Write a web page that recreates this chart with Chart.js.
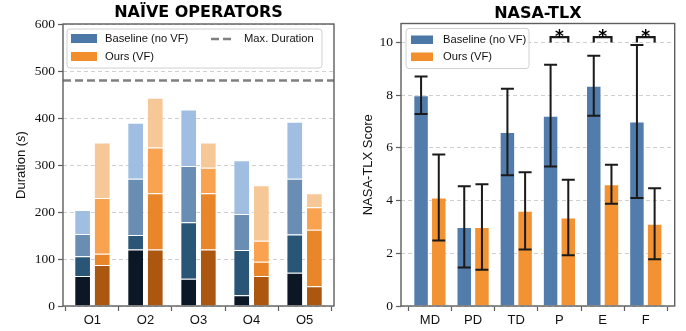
<!DOCTYPE html>
<html>
<head>
<meta charset="utf-8">
<title>Naive operators / NASA-TLX</title>
<script src="https://cdn.jsdelivr.net/npm/chart.js"></script>
<style>
    html, body { margin: 0; padding: 0; background: #fff; }
    .wrap { display: flex; width: 686px; height: 331px; }
    .panel { width: 343px; height: 331px; }
</style>
</head>
<body>
<div class="wrap">
    <div class="panel"><canvas id="naive" width="343" height="331"></canvas></div>
    <div class="panel"><canvas id="tlx" width="343" height="331"></canvas></div>
</div>
<script>
    // Naive operators: duration of each stage (s), stacked per operator
    const operators = ['O1', 'O2', 'O3', 'O4', 'O5'];
    const baseStage1 = [64, 120, 58, 23, 71];
    const baseStage2 = [42, 31, 120, 96, 81];
    const baseStage3 = [47, 120, 120, 77, 119];
    const baseStage4 = [51, 119, 120, 114, 121];
    const oursStage1 = [87, 120, 120, 64, 42];
    const oursStage2 = [24, 120, 120, 30, 120];
    const oursStage3 = [119, 97, 54, 45, 48];
    const oursStage4 = [118, 106, 54, 118, 30];
    const maxDuration = 480;
    const durationTicks = [0, 100, 200, 300, 400, 500, 600];

    // NASA-TLX: mean score and standard deviation per dimension
    const tlxDims = ['MD', 'PD', 'TD', 'P', 'E', 'F'];
    const tlxBaseline = [8.0, 3.0, 6.6, 7.22, 8.36, 7.0];
    const tlxBaselineSd = [0.71, 1.54, 1.64, 1.93, 1.14, 2.9];
    const tlxOurs = [4.12, 3.0, 3.61, 3.36, 4.62, 3.12];
    const tlxOursSd = [1.63, 1.62, 1.47, 1.43, 0.74, 1.35];
    const tlxSignificant = [false, false, false, true, true, true];
    const tlxTicks = [0, 2, 4, 6, 8, 10];

    const BLUE = '#4c78a8';
    const ORANGE = '#f28e2b';
    const baseShades = ['rgba(3,16,30,0.97)', 'rgba(30,76,112,0.95)', 'rgba(98,135,176,0.95)', 'rgba(155,186,224,0.95)'];
    const oursShades = ['rgba(168,78,2,0.95)', 'rgba(232,127,30,0.95)', 'rgba(249,158,72,0.95)', 'rgba(247,197,145,0.95)'];
    const SANS = '"Liberation Sans", Arial, sans-serif';
    const SERIF = '"Liberation Serif", "Times New Roman", serif';

    function drawFrame(chart) {
        const { ctx, chartArea: a } = chart;
        ctx.save();
        ctx.strokeStyle = '#5e5e5e';
        ctx.lineWidth = 1.4;
        ctx.strokeRect(a.left, a.top, a.right - a.left, a.bottom - a.top);
        ctx.restore();
    }

    function drawTitle(chart, text, baseline) {
        const { ctx, chartArea: a } = chart;
        ctx.save();
        ctx.font = 'bold 16px "DejaVu Sans", sans-serif';
        ctx.fillStyle = '#000';
        ctx.textAlign = 'center';
        ctx.textBaseline = 'alphabetic';
        ctx.fillText(text, (a.left + a.right) / 2, baseline);
        ctx.restore();
    }

    // rotated y label, parts = [[text, italic], ...]
    function drawYLabel(chart, parts, cx) {
        const { ctx, chartArea: a } = chart;
        ctx.save();
        ctx.translate(cx, (a.top + a.bottom) / 2);
        ctx.rotate(-Math.PI / 2);
        ctx.fillStyle = '#111';
        ctx.textBaseline = 'middle';
        ctx.textAlign = 'left';
        const fonts = parts.map(p => (p[1] ? 'italic ' : '') + '13px ' + SANS);
        let total = 0;
        parts.forEach((p, i) => { ctx.font = fonts[i]; total += ctx.measureText(p[0]).width; });
        let x = -total / 2;
        parts.forEach((p, i) => {
            ctx.font = fonts[i];
            ctx.fillText(p[0], x, 0);
            x += ctx.measureText(p[0]).width;
        });
        ctx.restore();
    }

    function legendBox(ctx, x, y, w, h) {
        ctx.save();
        ctx.fillStyle = 'rgba(255,255,255,0.85)';
        ctx.strokeStyle = '#d0d0d0';
        ctx.lineWidth = 1;
        ctx.beginPath();
        ctx.roundRect(x, y, w, h, 3);
        ctx.fill();
        ctx.stroke();
        ctx.restore();
    }

    function legendText(ctx, text, x, y) {
        ctx.save();
        ctx.font = '11.2px ' + SANS;
        ctx.fillStyle = '#111';
        ctx.textBaseline = 'middle';
        ctx.fillText(text, x, y);
        ctx.restore();
    }

    const naiveDecor = {
        id: 'naiveDecor',
        afterDatasetsDraw(chart) {
            const { ctx, chartArea: a, scales: { y } } = chart;
            const py = y.getPixelForValue(maxDuration);
            ctx.save();
            ctx.strokeStyle = '#808080';
            ctx.lineWidth = 2.5;
            ctx.setLineDash([8, 4]);
            ctx.beginPath();
            ctx.moveTo(a.left, py);
            ctx.lineTo(a.right, py);
            ctx.stroke();
            ctx.restore();
        },
        afterDraw(chart) {
            const { ctx, chartArea: a } = chart;
            drawFrame(chart);
            drawTitle(chart, 'NAÏVE OPERATORS', 17);
            drawYLabel(chart, [['Duration (', false], ['s', true], [')', false]], 21);
            const lx = a.left + 4, ly = a.top + 5;
            legendBox(ctx, lx, ly, 255, 39);
            ctx.fillStyle = BLUE;
            ctx.fillRect(lx + 4, ly + 5, 26, 9);
            ctx.fillStyle = ORANGE;
            ctx.fillRect(lx + 4, ly + 23, 26, 9);
            legendText(ctx, 'Baseline (no VF)', lx + 38, ly + 10);
            legendText(ctx, 'Ours (VF)', lx + 38, ly + 28);
            ctx.save();
            ctx.strokeStyle = '#808080';
            ctx.lineWidth = 2.5;
            ctx.setLineDash([8, 4]);
            ctx.beginPath();
            ctx.moveTo(lx + 144, ly + 10);
            ctx.lineTo(lx + 166, ly + 10);
            ctx.stroke();
            ctx.restore();
            legendText(ctx, 'Max. Duration', lx + 177, ly + 10);
        }
    };

    const tlxDecor = {
        id: 'tlxDecor',
        afterDatasetsDraw(chart) {
            const { ctx, scales: { y } } = chart;
            const sets = [[tlxBaseline, tlxBaselineSd], [tlxOurs, tlxOursSd]];
            ctx.save();
            ctx.strokeStyle = '#1a1a1a';
            ctx.lineWidth = 2;
            sets.forEach((s, d) => {
                chart.getDatasetMeta(d).data.forEach((bar, i) => {
                    const top = y.getPixelForValue(s[0][i] + s[1][i]);
                    const bot = y.getPixelForValue(s[0][i] - s[1][i]);
                    ctx.beginPath();
                    ctx.moveTo(bar.x, top); ctx.lineTo(bar.x, bot);
                    ctx.moveTo(bar.x - 6.5, top); ctx.lineTo(bar.x + 6.5, top);
                    ctx.moveTo(bar.x - 6.5, bot); ctx.lineTo(bar.x + 6.5, bot);
                    ctx.stroke();
                });
            });
            // significance brackets
            const m0 = chart.getDatasetMeta(0).data, m1 = chart.getDatasetMeta(1).data;
            const yLeg = y.getPixelForValue(10.0), yTop = y.getPixelForValue(10.2);
            ctx.lineWidth = 2.2;
            ctx.fillStyle = '#000';
            ctx.font = 'bold 17px "DejaVu Sans", sans-serif';
            ctx.textAlign = 'center';
            ctx.textBaseline = 'alphabetic';
            tlxSignificant.forEach((sig, i) => {
                if (!sig) return;
                const x0 = m0[i].x, x1 = m1[i].x;
                ctx.beginPath();
                ctx.moveTo(x0, yLeg); ctx.lineTo(x0, yTop); ctx.lineTo(x1, yTop); ctx.lineTo(x1, yLeg);
                ctx.stroke();
                ctx.fillText('*', (x0 + x1) / 2, yTop + 5);
            });
            ctx.restore();
        },
        afterDraw(chart) {
            const { ctx, chartArea: a } = chart;
            drawFrame(chart);
            drawTitle(chart, 'NASA-TLX', 18);
            drawYLabel(chart, [['NASA-TLX Score', false]], 25);
            const lx = a.left + 5, ly = a.top + 5;
            legendBox(ctx, lx, ly, 123, 40);
            ctx.fillStyle = BLUE;
            ctx.fillRect(lx + 5, ly + 7, 22, 8.5);
            ctx.fillStyle = ORANGE;
            ctx.fillRect(lx + 5, ly + 24, 22, 8.5);
            legendText(ctx, 'Baseline (no VF)', lx + 37, ly + 11.5);
            legendText(ctx, 'Ours (VF)', lx + 37, ly + 28.5);
        }
    };

    function xAxis(labels, min, max) {
        return {
            type: 'linear', min: min, max: max, offset: false,
            afterBuildTicks(s) { s.ticks = labels.map((_, i) => ({ value: i })); },
            afterFit(s) { s.height = 25; },
            ticks: {
                callback: v => labels[v], autoSkip: false, maxRotation: 0,
                font: { family: SANS, size: 13 }, color: '#111', padding: 2
            },
            grid: { drawOnChartArea: false, tickLength: 5, tickColor: '#5e5e5e', tickWidth: 1.2 },
            border: { display: false }
        };
    }

    function yAxis(tickValues, min, max, width, stacked) {
        return {
            min: min, max: max, stacked: stacked,
            afterBuildTicks(s) { s.ticks = tickValues.map(v => ({ value: v })); },
            afterFit(s) { s.width = width; },
            ticks: { font: { family: SERIF, size: 13.5 }, color: '#111', padding: 3 },
            grid: { color: '#cfcfcf', lineWidth: 1, tickLength: 5, tickColor: '#5e5e5e', tickWidth: 1.2 },
            border: { display: false, dash: [4, 3] }
        };
    }

    Chart.defaults.animation = false;

    const baseStages = [baseStage1, baseStage2, baseStage3, baseStage4];
    const oursStages = [oursStage1, oursStage2, oursStage3, oursStage4];
    const naiveSets = [];
    baseStages.forEach((vals, k) => naiveSets.push({
        label: 'Baseline stage ' + (k + 1), stack: 'base',
        data: vals.map((v, i) => ({ x: i, y: v })),
        backgroundColor: baseShades[k], borderColor: 'rgba(255,255,255,0.35)', borderWidth: 1
    }));
    oursStages.forEach((vals, k) => naiveSets.push({
        label: 'Ours stage ' + (k + 1), stack: 'ours',
        data: vals.map((v, i) => ({ x: i, y: v })),
        backgroundColor: oursShades[k], borderColor: 'rgba(255,255,255,0.35)', borderWidth: 1
    }));

    new Chart(document.getElementById('naive'), {
        type: 'bar',
        data: { datasets: naiveSets },
        options: {
            responsive: false,
            categoryPercentage: 0.74,
            barPercentage: 0.85,
            layout: { padding: { top: 24, right: 9, left: 0, bottom: 0 } },
            plugins: { legend: { display: false }, tooltip: { enabled: false } },
            scales: {
                x: xAxis(operators, -0.555, 4.555),
                y: yAxis(durationTicks, 0, 600, 63, true)
            }
        },
        plugins: [naiveDecor]
    });

    new Chart(document.getElementById('tlx'), {
        type: 'bar',
        data: {
            datasets: [
                { label: 'Baseline (no VF)', data: tlxBaseline.map((v, i) => ({ x: i, y: v })),
                  backgroundColor: 'rgba(76,120,168,0.97)', borderColor: 'rgba(255,255,255,0.35)', borderWidth: 1 },
                { label: 'Ours (VF)', data: tlxOurs.map((v, i) => ({ x: i, y: v })),
                  backgroundColor: 'rgba(242,142,43,0.97)', borderColor: 'rgba(255,255,255,0.35)', borderWidth: 1 }
            ]
        },
        options: {
            responsive: false,
            categoryPercentage: 0.82,
            barPercentage: 0.875,
            layout: { padding: { top: 23.5, right: 11.3, left: 0, bottom: 0 } },
            plugins: { legend: { display: false }, tooltip: { enabled: false } },
            scales: {
                x: xAxis(tlxDims, -0.67, 5.67),
                y: yAxis(tlxTicks, 0, 10.72, 58, false)
            }
        },
        plugins: [tlxDecor]
    });
</script>
</body>
</html>
